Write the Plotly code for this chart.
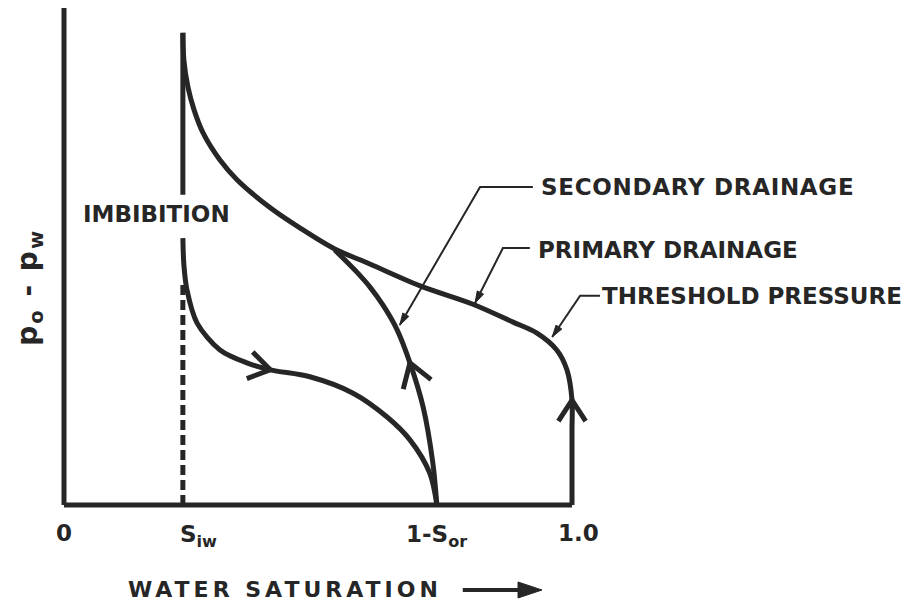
import math
import plotly.graph_objects as go

# ---------------- data ----------------
S_IW = 0.234          # irreducible water saturation
ONE_MINUS_SOR = 0.734  # 1 - residual oil saturation

# primary drainage curve (water saturation, capillary pressure, arbitrary units)
primary_x = [0.234, 0.236, 0.244, 0.256, 0.274, 0.307, 0.341, 0.406, 0.465, 0.533,
             0.602, 0.701, 0.805, 0.884, 0.931, 0.970, 0.990, 1.000, 1.000, 1.000]
primary_y = [0.950, 0.895, 0.841, 0.795, 0.748, 0.694, 0.654, 0.598, 0.557, 0.515,
             0.485, 0.441, 0.404, 0.368, 0.346, 0.312, 0.272, 0.211, 0.151, 0.000]

# imbibition curve
imb_x = [0.234, 0.236, 0.242, 0.262, 0.307, 0.360, 0.406, 0.484, 0.569, 0.636, 0.681, 0.720, 0.734]
imb_y = [0.537, 0.483, 0.433, 0.366, 0.312, 0.286, 0.272, 0.258, 0.225, 0.177, 0.131, 0.064, 0.000]

# secondary drainage curve
sec_x = [0.734, 0.726, 0.707, 0.681, 0.656, 0.628, 0.602, 0.577, 0.556, 0.533]
sec_y = [0.000, 0.085, 0.197, 0.286, 0.352, 0.402, 0.439, 0.468, 0.490, 0.513]

# vertical line at S_iw: solid upper part, dashed lower part
siw_solid_y = [0.624, 0.950]
siw_dashed_y = [0.000, 0.443]

# axes
axis_x = [0.0, 1.0]
axis_top = 1.0

# label leaders (label end -> elbow -> curve)
lead_sec_x = [0.923, 0.819, 0.661]
lead_sec_y = [0.640, 0.640, 0.362]
lead_pri_x = [0.917, 0.864, 0.809]
lead_pri_y = [0.517, 0.517, 0.406]
lead_thr_x = [1.055, 1.016, 0.961]
lead_thr_y = [0.421, 0.421, 0.338]

tick_vals = [0.0, S_IW, ONE_MINUS_SOR, 1.0]
tick_text = ["0", "S<sub>iw</sub>", "1-S<sub>or</sub>", "1.0"]

# ---------------- style ----------------
INK = "#262626"
FONT = "DejaVu Sans"
PAGE = 8                      # default page margin of the html body
W, H = 911 - PAGE, 606 - PAGE
X0_PX, Y0_PX = 64, 505        # where (0, 0) falls in the window
SX = 508.0   # px per unit saturation
SY = 497.0   # px per unit pressure
XR = [(PAGE - X0_PX) / SX, (911 - X0_PX) / SX]
YR = [(Y0_PX - 606) / SY, (Y0_PX - PAGE) / SY]

fig = go.Figure()


def line(x, y, width=5, dash=None, shape="linear"):
    fig.add_trace(go.Scatter(
        x=x, y=y, mode="lines", hoverinfo="skip", showlegend=False,
        line=dict(color=INK, width=width, dash=dash, shape=shape, smoothing=0.9),
    ))


def unit_px(x0, y0, x1, y1):
    dx, dy = (x1 - x0) * SX, (y1 - y0) * SY
    n = math.hypot(dx, dy)
    return dx / n, dy / n


def chevron(x, y, i, a, b, length=25, ang=33):
    """Open arrowhead at point i of a curve, pointing from point a to point b."""
    ux, uy = unit_px(x[a], y[a], x[b], y[b])
    ux, uy = -ux, -uy
    px, py = [], []
    for s in (1, -1):
        t = math.radians(ang * s)
        rx = ux * math.cos(t) - uy * math.sin(t)
        ry = ux * math.sin(t) + uy * math.cos(t)
        px.append(x[i] + length * rx / SX)
        py.append(y[i] + length * ry / SY)
    line([px[0], x[i], px[1]], [py[0], y[i], py[1]], width=5)


def solid_head(xf, yf, xt, yt, length=12, half=3.5):
    """Filled triangular arrowhead with its tip at (xt, yt), coming from (xf, yf)."""
    ux, uy = unit_px(xf, yf, xt, yt)
    bx, by = xt - length * ux / SX, yt - length * uy / SY
    nx, ny = -uy, ux
    hx = [bx + half * nx / SX, xt, bx - half * nx / SX, bx + half * nx / SX]
    hy = [by + half * ny / SY, yt, by - half * ny / SY, by + half * ny / SY]
    fig.add_trace(go.Scatter(x=hx, y=hy, mode="lines", fill="toself", fillcolor=INK,
                             line=dict(color=INK, width=1), hoverinfo="skip",
                             showlegend=False))


# axes
line(axis_x, [0.0, 0.0], width=5)
line([0.0, 0.0], [0.0, axis_top], width=5)

# curves
line([S_IW, S_IW], siw_solid_y, width=5)
line([S_IW, S_IW], siw_dashed_y, width=5, dash="10px,5px")
line(primary_x, primary_y, width=5, shape="spline")
line(imb_x, imb_y, width=5, shape="spline")
line(sec_x, sec_y, width=5, shape="spline")

# direction arrows on the curves
chevron(imb_x, imb_y, 6, 5, 7)
chevron(sec_x, sec_y, 3, 2, 4, length=27)
chevron(primary_x, primary_y, 17, 18, 17)

# leaders
for lx, ly in ((lead_sec_x, lead_sec_y), (lead_pri_x, lead_pri_y), (lead_thr_x, lead_thr_y)):
    line(lx, ly, width=2)
    solid_head(lx[1], ly[1], lx[2], ly[2])


def label(text, x, y, xanchor="left", yanchor="middle", size=23, angle=0, xshift=0):
    fig.add_annotation(x=x, y=y, xref="x", yref="y", text=text, showarrow=False,
                       xanchor=xanchor, yanchor=yanchor, textangle=angle, xshift=xshift,
                       borderpad=0,
                       font=dict(family=FONT, size=size, color=INK, weight="bold"))


label('<span style="letter-spacing:0.7px">SECONDARY DRAINAGE</span>', 0.937, 0.640)
label("PRIMARY DRAINAGE", 0.931, 0.513)
label("THRESHOLD PRESSURE", 1.057, 0.421)
label("IMBIBITION", 0.183, 0.586, xanchor="center")

# tick labels on the saturation axis
label(tick_text[0], tick_vals[0], -0.056, xanchor="center")
label(tick_text[1], tick_vals[1], -0.062, xanchor="left", xshift=-4)
label(tick_text[2], tick_vals[2], -0.062, xanchor="center")
label(tick_text[3], tick_vals[3], -0.056, xanchor="center", xshift=6)

# axis titles
title_y = -0.171
label('<span style="letter-spacing:4px">WATER SATURATION</span>', 0.124, title_y, size=22)
title_arrow_x = [0.785, 0.905]
line(title_arrow_x, [title_y, title_y], width=4)
solid_head(title_arrow_x[0], title_y, 0.941, title_y, length=24, half=8)
label('<span style="letter-spacing:2px">p<sub>o</sub> - p<sub>w</sub></span>',
      -0.067, 0.439, xanchor="center", angle=-90, size=28)

fig.update_layout(
    width=W, height=H,
    margin=dict(l=0, r=0, t=0, b=0, autoexpand=False),
    paper_bgcolor="white", plot_bgcolor="white",
    showlegend=False,
    xaxis=dict(range=XR, visible=False, fixedrange=True),
    yaxis=dict(range=YR, visible=False, fixedrange=True),
)

fig.write_html("out.html")
